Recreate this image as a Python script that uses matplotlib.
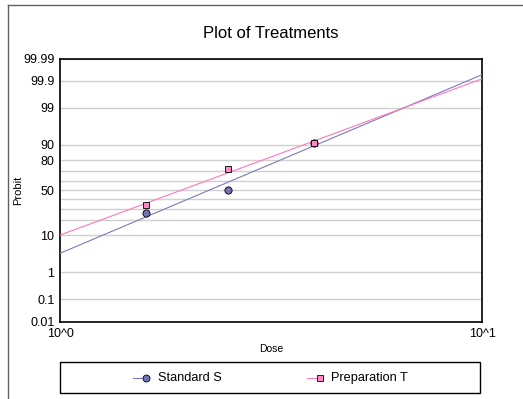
import numpy as np
import matplotlib
matplotlib.use("Agg")
import matplotlib.pyplot as plt
from matplotlib.lines import Line2D
from statistics import NormalDist

plt.rcParams["font.family"] = ["Liberation Sans", "DejaVu Sans"]

# -----------------------------
# Data
# -----------------------------
dose = [1.6, 2.5, 4.0]
standard_s = [25.5, 50.0, 91.0]      # percent response
preparation_t = [33.5, 72.5, 91.0]   # percent response

# fitted probit lines: probit = intercept + slope * log10(dose)
s_intercept, s_slope = -1.79, 5.05
t_intercept, t_slope = -1.275, 4.42

tick_pct = [0.01, 0.1, 1, 10, 50, 80, 90, 99, 99.9, 99.99]
tick_labels = ["0.01", "0.1", "1", "10", "50", "80", "90", "99", "99.9", "99.99"]
grid_pct = [20, 30, 40, 60, 70]
series_names = ["Standard S", "Preparation T"]

nd = NormalDist()


def probit(p):
    return [nd.inv_cdf(v / 100.0) for v in p]


# -----------------------------
# Figure
# -----------------------------
W, H = 523, 399
fig = plt.figure(figsize=(W / 100, H / 100), dpi=100)
ax = fig.add_axes([60 / W, 1 - 321.5 / H, 422 / W, 263 / H])

blue = "#7b7bbd"
pink = "#ff77bb"
blue_fill = "#7272b4"
pink_fill = "#ff88c4"

xs = np.array([1.0, 10.0])
ax.plot(xs, s_intercept + s_slope * np.log10(xs), color=blue, lw=0.8, zorder=3)
ax.plot(xs, t_intercept + t_slope * np.log10(xs), color=pink, lw=0.8, zorder=3)

ax.plot(dose, probit(standard_s), ls="none", marker="o", ms=5.2,
        mfc=blue_fill, mec="black", mew=0.6, zorder=4)
ax.plot(dose, probit(preparation_t), ls="none", marker="s", ms=5.0,
        mfc=pink_fill, mec="black", mew=0.6, zorder=4)

ax.set_xscale("log")
ax.set_xlim(1, 10)
ax.set_ylim(nd.inv_cdf(0.0001), nd.inv_cdf(0.9999))

ax.set_xticks([1, 10])
ax.set_xticklabels(["10^0", "10^1"], fontsize=9)
ax.xaxis.set_minor_locator(matplotlib.ticker.NullLocator())
ax.set_yticks(probit(tick_pct))
ax.set_yticklabels(tick_labels, fontsize=9)
ax.set_yticks(probit(grid_pct), minor=True)
ax.tick_params(axis="both", which="both", length=0)
ax.tick_params(axis="y", pad=4)
ax.tick_params(axis="x", pad=5)

ax.grid(True, axis="y", which="both", color="#d0d0d0", lw=1, zorder=0)
for s in ax.spines.values():
    s.set_linewidth(1.2)
    s.set_color("black")

ax.set_xlabel("Dose", fontsize=7.5)
ax.xaxis.set_label_coords(0.5, (321.5 - 349) / 263)
ax.xaxis.label.set_va("center")
ax.set_ylabel("Probit", fontsize=8)
ax.yaxis.set_label_coords((18 - 60) / 422, 0.5)
ax.yaxis.label.set_va("center")

fig.text(271 / W, 1 - 33 / H, "Plot of Treatments", ha="center", va="center",
         fontsize=12)

# outer frame lines (top and left)
fig.add_artist(Line2D([8 / W, 1], [1 - 5 / H, 1 - 5 / H], color="#606060", lw=1))
fig.add_artist(Line2D([8 / W, 8 / W], [0, 1 - 5 / H], color="#606060", lw=1))

# legend box, drawn by hand so the marker sits at the end of the line
fig.add_artist(plt.Rectangle((60 / W, 1 - 393 / H), 420 / W, 31 / H,
                             fill=False, edgecolor="black", lw=1,
                             transform=fig.transFigure))
ly = 1 - 377.7 / H
entries = [
    (133, 146, 158, "o", blue, blue_fill, 5.0),
    (307, 320, 331, "s", pink, pink_fill, 4.8),
]
for (x0, xm, xt, mk, lc, fc, ms), name in zip(entries, series_names):
    fig.add_artist(Line2D([x0 / W, xm / W], [ly, ly], color=lc, lw=0.8))
    fig.add_artist(Line2D([xm / W], [ly], ls="none", marker=mk, ms=ms,
                          mfc=fc, mec="black", mew=0.6))
    fig.text(xt / W, ly, name, ha="left", va="center", fontsize=9.2)

fig.savefig("out.png", dpi=100)
